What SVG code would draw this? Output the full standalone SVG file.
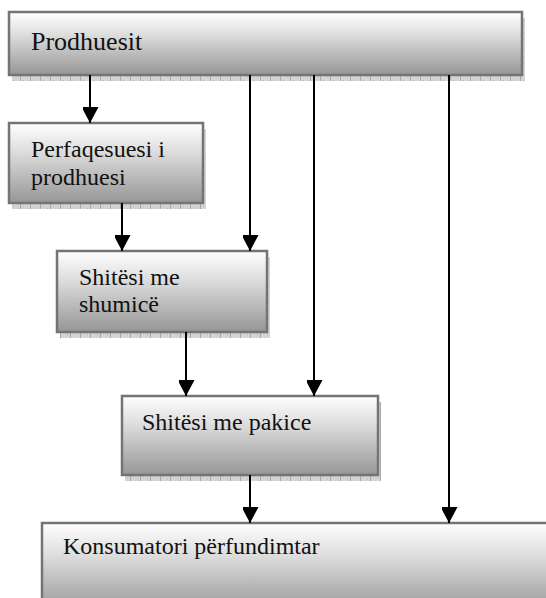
<svg xmlns="http://www.w3.org/2000/svg" width="546" height="598" viewBox="0 0 546 598">
  <defs>
    <linearGradient id="boxFill" x1="0" y1="0" x2="0" y2="1">
      <stop offset="0" stop-color="#ffffff"/>
      <stop offset="0.35" stop-color="#dedede"/>
      <stop offset="1" stop-color="#969696"/>
    </linearGradient>
    <pattern id="shadeHatch" width="10" height="6" patternUnits="userSpaceOnUse">
      <rect width="10" height="6" fill="#d4d4d4"/>
      <rect x="0" y="0" width="1" height="6" fill="#a8a8a8"/>
      <rect x="3" y="2" width="1" height="1" fill="#b8b8b8"/>
      <rect x="7" y="4" width="1" height="1" fill="#b8b8b8"/>
    </pattern>
    <marker id="arrowHead" markerWidth="17" markerHeight="16" refX="16" refY="8.5" orient="auto" markerUnits="userSpaceOnUse">
      <path d="M0,0 L16,8.5 L0,17 Z" fill="#000"/>
    </marker>
  </defs>
  <style>
    .shadow { fill: url(#shadeHatch); }
    .box { fill: url(#boxFill); stroke: #747474; stroke-width: 2.5; }
    .label { font-family: "Liberation Serif", "Times New Roman", serif; font-size: 24px; fill: #111; }
    .conn { stroke: #000; stroke-width: 2; fill: none; marker-end: url(#arrowHead); }
  </style>

  <g id="node-prodhuesit">
    <rect class="shadow" x="12" y="18" width="513" height="63"/>
    <rect class="box" x="9" y="12" width="513" height="63"/>
    <text class="label" x="31" y="50" style="font-size:26px">Prodhuesit</text>
  </g>

  <g id="node-perfaqesuesi">
    <rect class="shadow" x="12" y="129" width="194" height="80"/>
    <rect class="box" x="9" y="123" width="194" height="80"/>
    <text class="label" x="31" y="157">Perfaqesuesi i</text>
    <text class="label" x="31" y="185">prodhuesi</text>
  </g>

  <g id="node-shumice">
    <rect class="shadow" x="60" y="257" width="210" height="81"/>
    <rect class="box" x="57" y="251" width="210" height="81"/>
    <text class="label" x="79" y="285">Shitësi me</text>
    <text class="label" x="79" y="312">shumicë</text>
  </g>

  <g id="node-pakice">
    <rect class="shadow" x="125" y="402" width="256" height="79"/>
    <rect class="box" x="122" y="396" width="256" height="79"/>
    <text class="label" x="142" y="430">Shitësi me pakice</text>
  </g>

  <g id="node-konsumatori">
    <rect class="box" x="42" y="523" width="520" height="90"/>
    <text class="label" x="63" y="554">Konsumatori përfundimtar</text>
  </g>

  <g id="connectors">
    <line class="conn" x1="90" y1="75" x2="90" y2="123"/>
    <line class="conn" x1="250" y1="75" x2="250" y2="251"/>
    <line class="conn" x1="314" y1="75" x2="314" y2="396"/>
    <line class="conn" x1="449" y1="75" x2="449" y2="523"/>
    <line class="conn" x1="122" y1="203" x2="122" y2="251"/>
    <line class="conn" x1="186" y1="332" x2="186" y2="396"/>
    <line class="conn" x1="250" y1="475" x2="250" y2="523"/>
  </g>
</svg>
